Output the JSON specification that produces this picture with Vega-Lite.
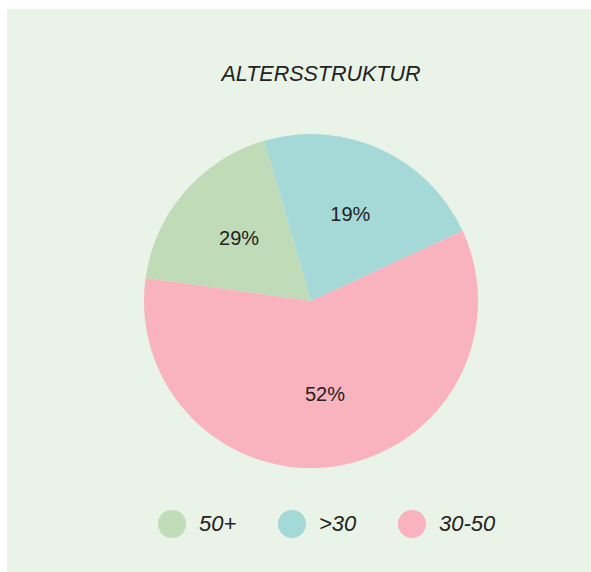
{
  "$schema": "https://vega.github.io/schema/vega-lite/v6.json",
  "autosize": "none",
  "width": 408,
  "height": 384,
  "padding": {"left": 107, "top": 109, "right": 76, "bottom": 79},
  "background": "#ffffff",
  "view": {"fill": "#e9f3e7", "stroke": "#e9f3e7", "strokeWidth": 200},
  "title": {
    "text": "ALTERSSTRUKTUR",
    "font": "Liberation Sans",
    "fontSize": 21.5,
    "fontStyle": "italic",
    "fontWeight": "normal",
    "color": "#222222",
    "anchor": "middle",
    "baseline": "alphabetic",
    "offset": 7,
    "dx": 10
  },
  "data": {
    "values": [
      {"category": "50+", "share": 18.3, "label": "29%"},
      {"category": ">30", "share": 22.6, "label": "19%"},
      {"category": "30-50", "share": 59.1, "label": "52%"}
    ]
  },
  "encoding": {
    "theta": {"field": "share", "type": "quantitative", "stack": true, "scale": {"range": [-1.4329, 4.8503]}},
    "order": {"field": "share", "type": "quantitative", "sort": "ascending"}
  },
  "layer": [
    {
      "mark": {"type": "arc", "outerRadius": 167, "strokeWidth": 0},
      "encoding": {
        "color": {
          "field": "category",
          "type": "nominal",
          "scale": {"domain": ["50+", ">30", "30-50"], "range": ["#c0dbb7", "#a5d9d7", "#f8b3bf"]},
          "legend": {
            "title": null,
            "orient": "none",
            "direction": "horizontal",
            "legendX": 51,
            "legendY": 401,
            "padding": 0,
            "symbolType": "circle",
            "symbolSize": 784,
            "symbolStrokeWidth": 0,
            "symbolOpacity": 1,
            "labelFont": "Liberation Sans",
            "labelFontSize": 22,
            "labelFontStyle": "italic",
            "labelColor": "#222222",
            "labelOffset": 13,
            "columnPadding": 41
          }
        }
      }
    },
    {
      "mark": {"type": "text", "radius": 95, "font": "Liberation Sans", "fontSize": 20, "color": "#222222", "align": "center", "baseline": "middle"},
      "encoding": {
        "text": {"field": "label", "type": "nominal"}
      }
    }
  ]
}
